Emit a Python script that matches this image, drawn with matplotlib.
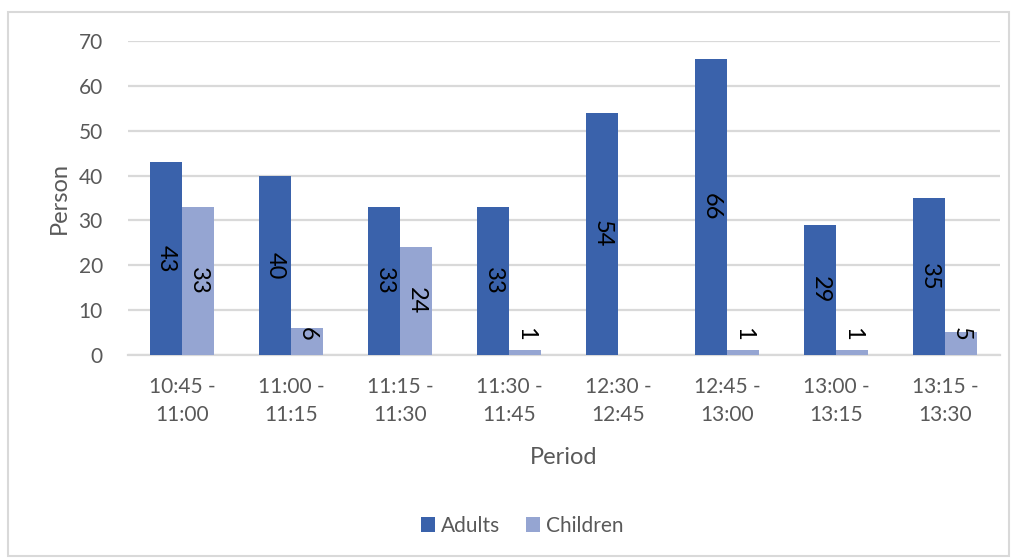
import numpy as np
import matplotlib
matplotlib.use('Agg')
import matplotlib.pyplot as plt
from matplotlib.patches import Rectangle

# data
periods = ['10:45 -\n11:00', '11:00 -\n11:15', '11:15 -\n11:30', '11:30 -\n11:45',
           '12:30 -\n12:45', '12:45 -\n13:00', '13:00 -\n13:15', '13:15 -\n13:30']
adults = [43, 40, 33, 33, 54, 66, 29, 35]
children = [33, 6, 24, 1, 0, 1, 1, 5]
child_labels = ['33', '6', '24', '1', '', '1', '1', '5']
y_ticks = [0, 10, 20, 30, 40, 50, 60, 70]

c_adults = '#3A62AB'
c_children = '#95A5D2'
grey_txt = '#595959'
grid_col = '#D9D9D9'

plt.rcParams['font.family'] = ['Lato', 'DejaVu Sans']

fig = plt.figure(figsize=(10.14, 5.58), dpi=100)
ax = fig.add_axes([0.126, 0.364, 0.86, 0.5625])

# chart border
fig.patches.append(Rectangle((0.008, 0.004), 0.987, 0.974, transform=fig.transFigure,
                             fill=False, edgecolor=grid_col, lw=1.5))

x = np.arange(len(periods))
w = 0.295
b1 = ax.bar(x - w / 2, adults, w, color=c_adults, label='Adults', zorder=3)
b2 = ax.bar(x + w / 2, children, w, color=c_children, label='Children', zorder=3)

# value labels, rotated, centred in bar (kept off the axis for short bars)
for xi, v in zip(x, adults):
    ax.text(xi - w / 2, max(v / 2, 4.7), str(v), rotation=270, ha='center', va='center',
            fontsize=17, color='black', zorder=4)
for xi, v, lab in zip(x, children, child_labels):
    if lab:
        ax.text(xi + w / 2, max(v / 2, 4.7), lab, rotation=270, ha='center', va='center',
                fontsize=17, color='black', zorder=4)

ax.set_xlim(-0.5, len(periods) - 0.5)
ax.set_ylim(0, 70)
ax.set_yticks(y_ticks)
ax.set_xticks(x)
ax.set_xticklabels(periods, fontsize=15, color=grey_txt, linespacing=1.5)
ax.tick_params(axis='y', labelsize=15, labelcolor=grey_txt, length=0, pad=18)
ax.tick_params(axis='x', length=0, pad=16)
ax.yaxis.grid(True, color=grid_col, lw=1.6, zorder=0)
for s in ['top', 'right', 'left']:
    ax.spines[s].set_visible(False)
ax.spines['bottom'].set_color(grid_col)
ax.spines['bottom'].set_linewidth(1.6)

ax.set_xlabel('Period', fontsize=17, color=grey_txt, labelpad=16)
ax.set_ylabel('Person', fontsize=17, color=grey_txt, labelpad=6)

fig.legend(handles=[b1, b2], labels=['Adults', 'Children'], loc='center',
           bbox_to_anchor=(0.515, 0.058), ncol=2, frameon=False, fontsize=15,
           labelcolor=grey_txt, handlelength=0.7, handleheight=0.7,
           handletextpad=0.3, columnspacing=1.2)

fig.savefig('out.png', dpi=100)
